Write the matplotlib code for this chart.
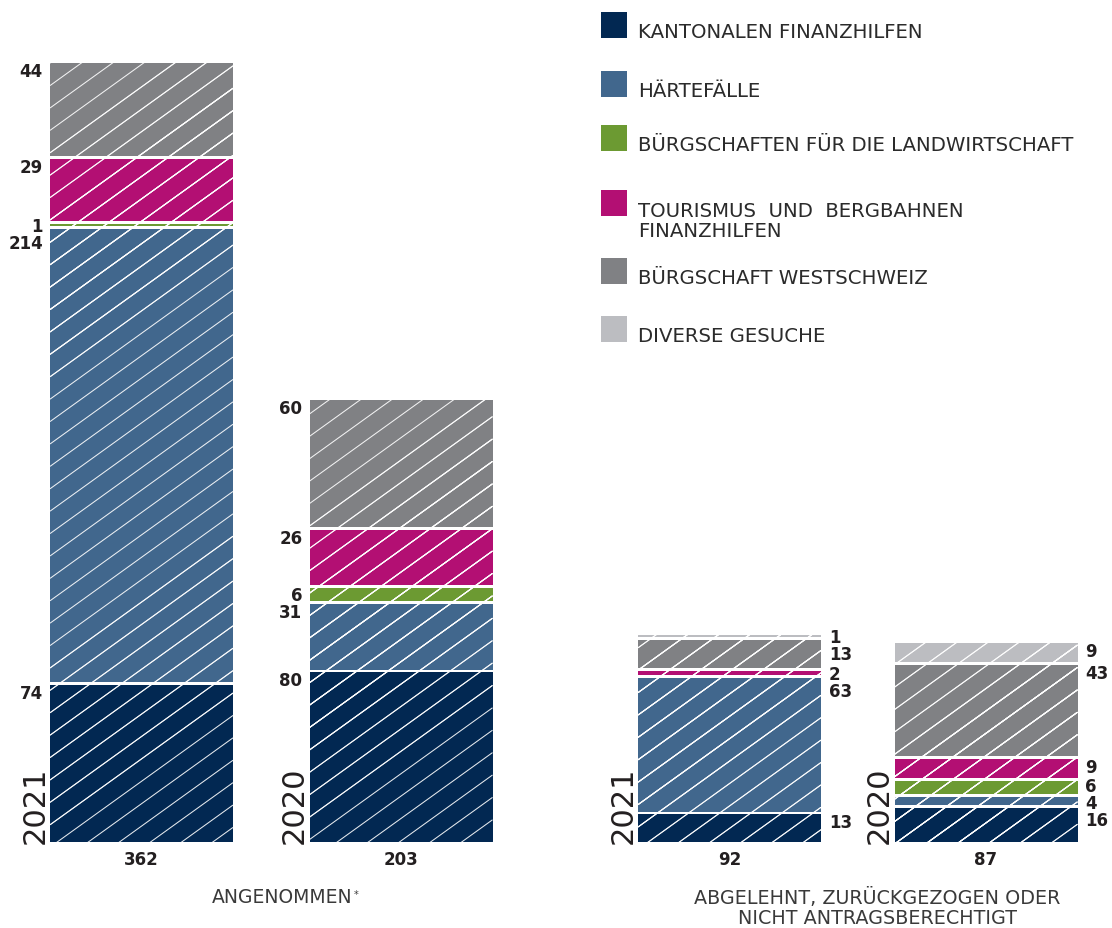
import matplotlib
matplotlib.use('Agg')
import matplotlib.pyplot as plt
from matplotlib.collections import LineCollection
from matplotlib.patches import Rectangle
from matplotlib.transforms import IdentityTransform
import numpy as np


categories = ['KANTONALEN FINANZHILFEN', 'HÄRTEFÄLLE',
              'BÜRGSCHAFTEN FÜR DIE LANDWIRTSCHAFT',
              'TOURISMUS  UND  BERGBAHNEN\nFINANZHILFEN',
              'BÜRGSCHAFT WESTSCHWEIZ', 'DIVERSE GESUCHE']
colors = ['#022852', '#41678d', '#6c9a32', '#b30f73', '#808184', '#bcbdc1']

bar_years = ['2021', '2020', '2021', '2020']
accepted_2021 = [74, 214, 1, 29, 44, 0]
accepted_2020 = [80, 31, 6, 26, 60, 0]
rejected_2021 = [13, 63, 0, 2, 13, 1]
rejected_2020 = [16, 4, 6, 9, 43, 9]
group_labels = ['ANGENOMMEN', 'ABGELEHNT, ZURÜCKGEZOGEN ODER\nNICHT ANTRAGSBERECHTIGT']

W, H, DPI = 1112, 929, 100
BASE_PX = 843       # baseline of the bars, pixels from top
UNIT_PX = 2.12      # pixels per request
GAP_PX = 2.9        # white gap between stacked segments
BAR_W = 183
centers = [141.5, 401, 729.5, 986]
label_side = ['left', 'left', 'right', 'right']
TEXT = '#231f20'

plt.rcParams['font.family'] = ['DejaVu Sans']


def fy(y_px):
    return 1 - y_px / H


def hatch(ax, patch, slope=0.72, step=22.4):
    # thin white diagonal lines, clipped to the bar segment
    bb = patch.get_window_extent()
    c0 = bb.y0 - slope * bb.x1
    c1 = bb.y1 - slope * bb.x0
    ks = np.arange(np.floor(c0 / step), np.ceil(c1 / step) + 1)
    segs = [[(bb.x0, slope * bb.x0 + k * step), (bb.x1, slope * bb.x1 + k * step)]
            for k in ks]
    lc = LineCollection(segs, colors='white', linewidths=0.75, alpha=0.9,
                        transform=IdentityTransform(), zorder=3)
    lc.set_clip_path(patch)
    ax.add_collection(lc, autolim=False)


def spread(ys, min_gap=17, rounds=60):
    ys = list(ys)
    for _ in range(rounds):
        for i in range(len(ys) - 1):
            d = ys[i + 1] - ys[i]
            if d < min_gap:
                shift = (min_gap - d) / 2
                ys[i] -= shift
                ys[i + 1] += shift
    return ys


fig = plt.figure(figsize=(W / DPI, H / DPI), dpi=DPI)
ax = fig.add_axes([0, (H - BASE_PX) / H, 1, BASE_PX / H])
ax.set_xlim(0, W)
ax.set_ylim(0, BASE_PX / UNIT_PX)
ax.axis('off')

stacks = [accepted_2021, accepted_2020, rejected_2021, rejected_2020]
gap = GAP_PX / UNIT_PX

for x, values, year, side in zip(centers, stacks, bar_years, label_side):
    bottom = 0
    tops = []
    for val, col in zip(values, colors):
        if val == 0:
            continue
        rect = ax.bar(x, val, BAR_W, bottom=bottom, color=col, linewidth=0)[0]
        hatch(ax, rect)
        top_img = H - ax.transData.transform((x, bottom + val))[1]
        tops.append((top_img, val))
        bottom += val + gap

    # value labels, top to bottom, pushed apart where they collide
    tops.sort()
    ys = spread([t + 8 for t, _ in tops])
    if side == 'left':
        lx, ha = x - BAR_W / 2 - 7, 'right'
    else:
        lx, ha = x + BAR_W / 2 + 8, 'left'
    for (t, val), y in zip(tops, ys):
        fig.text(lx / W, fy(y), str(val), ha=ha, va='center',
                 fontsize=12, color=TEXT, fontweight='semibold')

    # year written upwards beside the bar
    fig.text((x - BAR_W / 2 - 15) / W, fy(BASE_PX + 1), year, rotation=90,
             ha='center', va='bottom', fontsize=22, color=TEXT)

    # total under the bar
    fig.text(x / W, fy(BASE_PX + 17), str(sum(values)), ha='center',
             va='center', fontsize=12, color=TEXT, fontweight='semibold')

# group captions
t1 = fig.text(282 / W, fy(898), group_labels[0], ha='center', va='center',
              fontsize=13.5, color='#3a3a3a')
ax.annotate('*', xy=(1, 1), xycoords=t1, xytext=(1, -2),
            textcoords='offset pixels', ha='left', va='top', fontsize=7,
            color='#3a3a3a')
fig.text(877 / W, fy(908), group_labels[1], ha='center', va='center',
         fontsize=13.8, color='#3a3a3a', linespacing=1.08)

# legend; baseline alignment of wrapped text sits on the last line
legend_tops = [13, 72, 126, 191, 259, 317]
LINE_PX = 21
for name, col, top in zip(categories, colors, legend_tops):
    fig.patches.append(Rectangle((601 / W, fy(top + 26)), 26 / W, 26 / H,
                                 transform=fig.transFigure, color=col,
                                 linewidth=0))
    fig.text(638 / W, fy(top + 25 + LINE_PX * name.count('\n')), name,
             ha='left', va='baseline', fontsize=14.2, color='#2b2b2b',
             linespacing=1.07)

fig.savefig('out.png', dpi=DPI, facecolor='white')
